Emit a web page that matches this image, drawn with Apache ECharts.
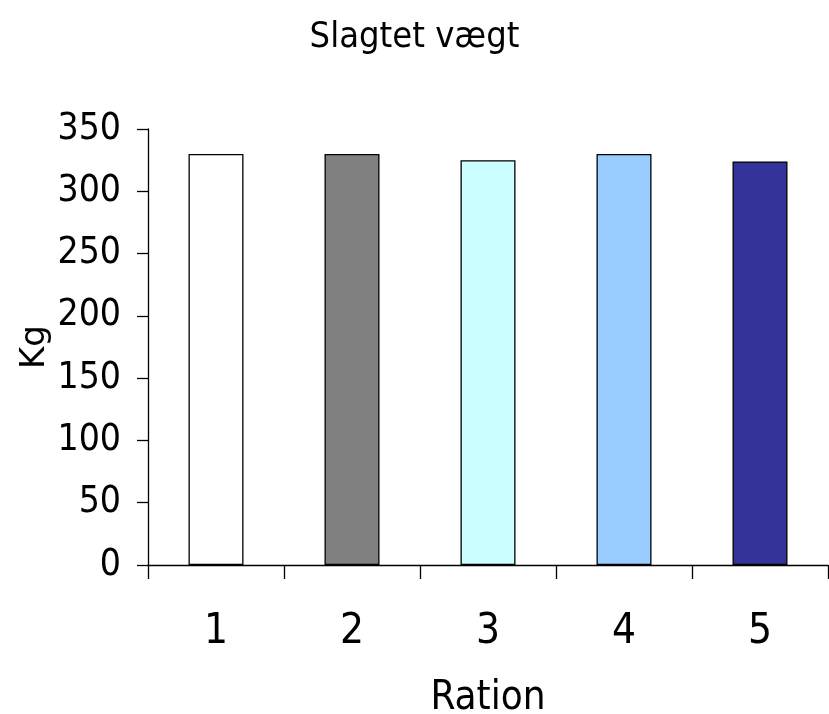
<!DOCTYPE html>
<html>
<head>
<meta charset="utf-8">
<script src="https://cdn.jsdelivr.net/npm/echarts@6/dist/echarts.min.js"></script>
<style>
  html, body { margin: 0; padding: 0; background: #fff; }
  #chart { width: 829px; height: 714px; }
</style>
</head>
<body>
<div id="chart"></div>
<script>
// Carcass weight per ration
const rations = ['1', '2', '3', '4', '5'];
const weights = [330, 330, 325, 330, 324];
const barColors = ['#FFFFFF', '#808080', '#CCFFFF', '#99CCFF', '#333399'];

const narrow = '"Liberation Sans Narrow", "DejaVu Sans Condensed", sans-serif';

const chart = echarts.init(document.getElementById('chart'), null, { renderer: 'canvas' });
chart.setOption({
  animation: false,
  backgroundColor: '#ffffff',
  title: {
    text: 'Slagtet vægt',
    left: 'center',
    top: 15,
    textStyle: { fontFamily: narrow, fontWeight: 'normal', fontSize: 36, color: '#000' }
  },
  // fixed plot rectangle; labels and names are laid out around it
  grid: { left: 148, right: 1, top: 129, bottom: 149, containLabel: false, outerBoundsMode: 'none' },
  xAxis: {
    type: 'category',
    data: rations,
    name: 'Ration',
    nameLocation: 'middle',
    nameGap: 114,
    nameMoveOverlap: false,
    nameTextStyle: { fontFamily: narrow, fontSize: 40, color: '#000' },
    axisLine: { lineStyle: { color: '#000', width: 1.3 } },
    axisTick: { show: true, length: 14, lineStyle: { color: '#000', width: 1.3 } },
    axisLabel: { fontFamily: narrow, fontSize: 42, color: '#000', margin: 46 },
    splitLine: { show: false }
  },
  yAxis: {
    type: 'value',
    min: 0,
    max: 350,
    interval: 50,
    name: 'Kg',
    nameLocation: 'middle',
    nameGap: 96,
    nameMoveOverlap: false,
    nameTextStyle: { fontFamily: '"DejaVu Sans", sans-serif', fontSize: 34, color: '#000' },
    axisLine: { show: true, lineStyle: { color: '#000', width: 1.3 } },
    axisTick: { show: true, length: 11, lineStyle: { color: '#000', width: 1.3 } },
    axisLabel: { fontFamily: narrow, fontSize: 37, color: '#000', margin: 27, padding: [11, 0, 0, 0] },
    splitLine: { show: false }
  },
  series: [{
    type: 'bar',
    barWidth: 55,
    data: weights.map((v, i) => ({
      value: v,
      itemStyle: { color: barColors[i], borderColor: '#000', borderWidth: 1.3 }
    }))
  }]
});
</script>
</body>
</html>
